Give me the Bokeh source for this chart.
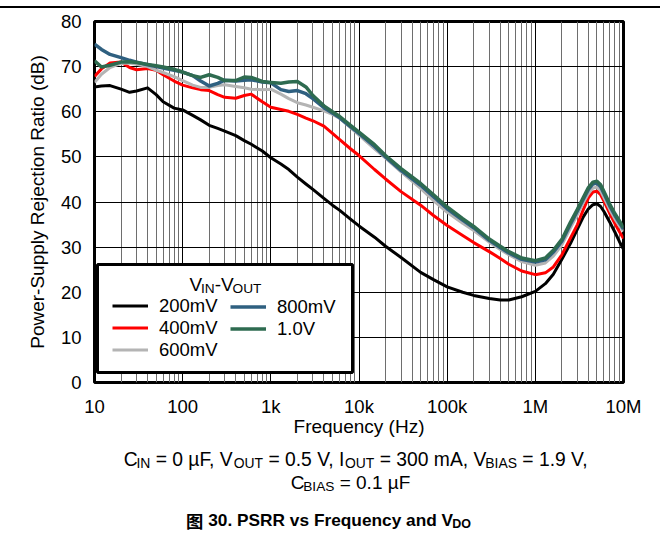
from bokeh.plotting import figure
from bokeh.layouts import column
from bokeh.models import Range1d, FixedTicker, Label, BoxAnnotation, Legend, LegendItem, Div
from bokeh.embed import file_html
from bokeh.resources import INLINE

# ---------------- data ----------------
freq_hz = [10, 12, 15, 20, 25, 30, 40, 50, 60, 80,
           100, 130, 160, 200, 250, 300, 400, 500, 600, 800,
           1e3, 1.3e3, 1.6e3, 2e3, 2.5e3, 3e3, 4e3, 5e3, 6e3, 8e3,
           1e4, 1.5e4, 2e4, 3e4, 5e4, 7e4,
           1e5, 1.5e5, 2e5, 3e5, 4e5, 5e5, 7e5,
           1e6, 1.3e6, 1.6e6, 2e6, 2.5e6, 3e6, 3.5e6, 4e6, 4.5e6, 5e6, 5.5e6, 6e6, 7e6, 8e6, 9e6, 1e7]

psrr_200mv = [65.5, 65.7, 65.8, 65.0, 64.3, 64.6, 65.3, 63.8, 62.2, 60.8,
              60.4, 59.2, 58.2, 57.0, 56.3, 55.7, 54.7, 53.6, 52.8, 51.3,
              49.8, 48.4, 47.2, 45.5, 44.0, 42.8, 40.8, 39.3, 38.2, 36.2,
              34.7, 32.2, 30.2, 27.7, 24.4, 22.8,
              21.2, 20.0, 19.3, 18.6, 18.3, 18.3, 19.0,
              20.2, 21.9, 24.0, 27.3, 30.8, 34.0, 36.7, 38.5, 39.4, 39.6, 39.0, 37.9, 35.5, 33.3, 31.2, 29.5]

psrr_400mv = [67.8, 69.5, 70.8, 71.0, 69.8, 69.3, 69.6, 69.2, 68.2, 66.8,
              65.9, 65.3, 64.9, 64.7, 63.8, 63.2, 63.0, 63.6, 63.9, 62.2,
              61.0, 60.5, 60.1, 59.4, 58.6, 58.0, 56.8, 55.2, 53.9, 51.8,
              50.3, 47.2, 45.1, 42.3, 39.3, 37.0,
              34.8, 32.6, 31.0, 29.0, 27.5, 26.2, 24.7,
              23.9, 24.3, 25.6, 28.3, 32.0, 35.0, 38.3, 40.9, 42.2, 42.4, 41.6, 40.2, 37.4, 35.2, 33.4, 31.9]

psrr_600mv = [66.5, 68.3, 69.8, 70.7, 70.8, 70.5, 70.0, 69.2, 68.7, 67.8,
              66.9, 65.9, 65.4, 65.4, 65.8, 66.0, 65.6, 65.3, 65.0, 64.9,
              65.0, 63.9, 62.9, 62.0, 61.5, 61.0, 60.2, 59.4, 58.6, 56.5,
              54.8, 51.8, 49.7, 46.7, 43.0, 40.3,
              37.7, 35.3, 33.7, 31.1, 29.5, 28.3, 26.8,
              26.0, 26.5, 28.0, 30.5, 34.2, 37.2, 39.8, 41.9, 43.1, 43.3, 42.5, 41.0, 38.3, 36.2, 34.7, 33.5]

psrr_800mv = [75.0, 73.8, 72.7, 72.0, 71.4, 71.0, 70.4, 70.0, 69.7, 69.2,
              68.8, 68.0, 66.8, 65.7, 66.3, 67.0, 66.8, 67.0, 67.1, 66.6,
              66.4, 64.9, 64.5, 64.7, 64.0, 62.9, 60.9, 59.7, 58.7, 56.7,
              55.2, 52.3, 50.0, 47.0, 43.7, 41.2,
              38.5, 36.0, 34.3, 31.5, 29.9, 28.7, 27.3,
              26.7, 27.2, 28.9, 31.3, 35.1, 38.0, 40.6, 42.8, 44.0, 44.2, 43.4, 41.9, 39.1, 37.0, 35.4, 34.0]

psrr_1v0 = [71.3, 69.9, 70.3, 71.0, 71.1, 70.9, 70.5, 70.2, 69.9, 69.4,
            68.8, 68.0, 67.6, 68.2, 67.6, 66.9, 66.9, 67.7, 67.6, 66.7,
            66.5, 66.3, 66.6, 66.7, 65.5, 63.6, 61.3, 60.0, 59.0, 57.0,
            55.5, 52.7, 50.3, 47.4, 44.1, 41.6,
            38.9, 36.3, 34.6, 31.8, 30.2, 29.0, 27.6,
            27.0, 27.6, 29.3, 31.7, 35.5, 38.4, 41.0, 43.2, 44.4, 44.6, 43.8, 42.3, 39.5, 37.4, 35.8, 34.3]

series_names = ["200mV", "400mV", "600mV", "800mV", "1.0V"]
series_colors = ["#000000", "#FF0000", "#B4B4B4", "#2F6080", "#2E6B50"]
series_widths = [3, 3, 3, 3.5, 3.5]

x_ticks = [10, 100, 1000, 10000, 100000, 1000000, 10000000]
x_tick_labels = ["10", "100", "1k", "10k", "100k", "1M", "10M"]
y_ticks = [0, 10, 20, 30, 40, 50, 60, 70, 80]

x_label = "Frequency (Hz)"
y_label = "Power-Supply Rejection Ratio (dB)"

# ---------------- layout constants (page px) ----------------
FONT = "Liberation Sans"
W = 660
FL, FT, FR, FB = 94, 21, 623, 382          # frame edges in page px
TOP_GAP, RULE_H = 6, 2
CHART_TOP = TOP_GAP + RULE_H               # 8
CHART_BOTTOM = 442
CAP_H = 99                                  # caption figure: page 442 .. 541
BASE_FIX = 7                                # measured baseline correction of labels
SUB_KERN = 1.2                              # pull subscripts toward the preceding letter

common_x = dict(min_border_left=FL, min_border_right=W - FR)

# ---------------- top rule ----------------
rule = Div(text="", width=W, height=RULE_H, margin=(TOP_GAP, 0, 0, 0),
           styles={"background-color": "black"})

# ---------------- chart ----------------
p = figure(width=W, height=CHART_BOTTOM - CHART_TOP, x_axis_type="log",
           x_range=Range1d(10, 1e7), y_range=Range1d(0, 80),
           output_backend="svg", toolbar_location=None, title=None,
           min_border_top=FT - CHART_TOP, min_border_bottom=CHART_BOTTOM - FB, **common_x)
p.background_fill_color = "white"
p.border_fill_color = "white"
p.outline_line_color = "black"
p.outline_line_width = 3

minor = [m * 10 ** e for e in range(1, 7) for m in range(2, 10)]
p.xaxis.ticker = FixedTicker(ticks=x_ticks, minor_ticks=minor)
p.xaxis.major_label_overrides = {t: s for t, s in zip(x_ticks, x_tick_labels)}
p.yaxis.ticker = FixedTicker(ticks=y_ticks)

for ax in (p.xaxis[0], p.yaxis[0]):
    ax.axis_line_color = None
    ax.major_tick_line_color = None
    ax.minor_tick_line_color = None
    ax.major_label_text_font = FONT
    ax.major_label_text_font_size = "18.5px"
    ax.major_label_text_color = "black"
    ax.axis_label_text_font = FONT
    ax.axis_label_text_font_size = "19px"
    ax.axis_label_text_font_style = "normal"
    ax.axis_label_text_color = "black"

p.xaxis.axis_label = x_label
p.xaxis.major_label_standoff = 7
p.xaxis.axis_label_standoff = -4
p.yaxis.axis_label = y_label
p.yaxis.major_label_standoff = 7
p.yaxis.axis_label_standoff = 10

p.xgrid.grid_line_color = "black"
p.xgrid.grid_line_width = 1
p.xgrid.minor_grid_line_color = "#6E6E6E"
p.xgrid.minor_grid_line_width = 1
p.ygrid.grid_line_color = "black"
p.ygrid.grid_line_width = 1

renderers = []
for vals, col, lw in zip([psrr_200mv, psrr_400mv, psrr_600mv, psrr_800mv, psrr_1v0],
                         series_colors, series_widths):
    r = p.line(freq_hz, vals, line_color=col, line_width=lw, line_join="round")
    renderers.append(r)

# ---------------- text helpers ----------------
REG = {' ': 278, ',': 278, '-': 333, '.': 278, '=': 584, 'A': 667, 'B': 667, 'C': 722,
       'F': 611, 'I': 278, 'N': 722, 'O': 778, 'S': 667, 'T': 611, 'U': 722, 'V': 667,
       'm': 833, 'µ': 577}
BOLD = {' ': 278, '.': 278, 'P': 667, 'S': 667, 'R': 722, 'F': 611, 'V': 667, 'D': 722,
        'O': 778, 'v': 556, 's': 556, 'r': 389, 'e': 556, 'q': 611, 'u': 611, 'n': 611,
        'c': 556, 'y': 556, 'a': 556, 'd': 611}


def width(text, size, table):
    return sum(table.get(ch, 556) for ch in text) * size / 1000.0


def rich(fig, to_xy, units, runs, cx_page, base_page, size, bold=False):
    """runs: list of (text, kind) where kind in n (normal), s (subscript), c (CJK)."""
    table = BOLD if bold else REG
    sub = size * 0.72
    parts = []
    for text, kind in runs:
        if kind == "c":
            parts.append((text, kind, size * len(text), size))
        elif kind == "s":
            parts.append((text, kind, width(text, sub, table) - SUB_KERN, sub))
        else:
            parts.append((text, kind, width(text, size, table), size))
    total = sum(w for _, _, w, _ in parts)
    x = cx_page - total / 2.0
    for text, kind, w, fs in parts:
        stripped = text.lstrip(" ")
        lead = width(text[:len(text) - len(stripped)], fs, table)
        stripped = stripped.rstrip(" ")
        if kind == "s":
            lead -= SUB_KERN
        yb = base_page - BASE_FIX + (size * 0.22 if kind == "s" else 0)
        lx, ly = to_xy(x + lead, yb)
        fig.add_layout(Label(x=lx, y=ly, x_units=units, y_units=units, text=stripped,
                             text_font=("Noto Sans CJK SC" if kind == "c" else FONT),
                             text_font_size=f"{fs:.1f}px",
                             text_font_style=("bold" if bold else "normal"),
                             text_align="left", text_baseline="alphabetic",
                             text_color="black"))
        x += w


def chart_xy(px, py):
    return px - FL, FB - py


# legend box
p.add_layout(BoxAnnotation(left=3, right=258, bottom=10, top=118,
                           left_units="screen", right_units="screen",
                           top_units="screen", bottom_units="screen",
                           fill_color="white", fill_alpha=1,
                           line_color="black", line_width=3, line_alpha=1))

leg_common = dict(border_line_color=None, background_fill_alpha=0, padding=0, margin=0,
                  spacing=0, label_height=21, glyph_height=21, glyph_width=36,
                  label_standoff=11, label_text_font=FONT, label_text_font_size="18.5px",
                  label_text_color="black")
leg1 = Legend(items=[LegendItem(label=series_names[i], renderers=[renderers[i]]) for i in range(3)],
              location=(18, 21.5), **leg_common)
leg2 = Legend(items=[LegendItem(label=series_names[i], renderers=[renderers[i]]) for i in range(3, 5)],
              location=(136, 42.5), **leg_common)
p.add_layout(leg1)
p.add_layout(leg2)

# legend title  V_IN - V_OUT
rich(p, chart_xy, "screen", [("V", "n"), ("IN", "s"), ("-V", "n"), ("OUT", "s")], 225, 291, 19)

# ---------------- captions ----------------
cap = figure(width=W, height=CAP_H, x_range=Range1d(FL, FR), y_range=Range1d(0, CAP_H),
             output_backend="svg", toolbar_location=None, title=None,
             x_axis_location=None, y_axis_location=None,
             min_border_top=0, min_border_bottom=0, **common_x)
cap.outline_line_color = None
cap.grid.visible = False
cap.border_fill_color = "white"


def cap_xy(px, py):
    return px, (CHART_BOTTOM + CAP_H) - py


rich(cap, cap_xy, "data",
     [("C", "n"), ("IN", "s"), (" = 0 µF, V", "n"), ("OUT", "s"), (" = 0.5 V, I", "n"),
      ("OUT", "s"), (" = 300 mA, V", "n"), ("BIAS", "s"), (" = 1.9 V,", "n")],
     356, 465.5, 19.3)
rich(cap, cap_xy, "data", [("C", "n"), ("BIAS", "s"), (" = 0.1 µF", "n")], 350, 489, 19)
rich(cap, cap_xy, "data", [("图", "c"), (" 30. PSRR vs Frequency and V", "n"), ("DO", "s")],
     328, 526.5, 17.3, bold=True)

layout = column(rule, p, cap, spacing=0)
open("out.html", "w").write(file_html(layout, INLINE))
